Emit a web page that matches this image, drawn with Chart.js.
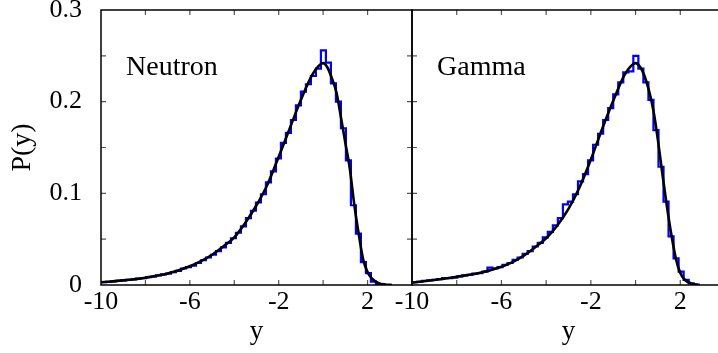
<!DOCTYPE html>
<html>
<head>
<meta charset="utf-8">
<script src="https://cdn.jsdelivr.net/npm/chart.js@4/dist/chart.umd.min.js"></script>
<style>
  html, body { margin: 0; padding: 0; background: #ffffff; overflow: hidden; }
  #wrap { position: relative; width: 718px; height: 353px; overflow: hidden; background: #fff; }
  canvas { position: absolute; top: 0; }
</style>
</head>
<body>
<div id="wrap">
  <canvas id="left" width="420" height="353" style="left:0px"></canvas>
  <canvas id="right" width="350" height="353" style="left:380px"></canvas>
</div>
<script>
// ---- axis setup ----
const xRange = [-10, 4];
const yRange = [0, 0.3];
const xTickLabels = [-10, -6, -2, 2];
const yTickLabels = [0, 0.1, 0.2, 0.3];
const panelLabels = ['Neutron', 'Gamma'];

// ---- histogram bins ----
const binStart = -10;
const binWidth = 0.225;

const neutronHist = [0.003,0.0035,0.004,0.0045,0.005,0.0055,0.006,0.007,0.0075,0.0085,
  0.009,0.0105,0.0115,0.0125,0.014,0.0155,0.018,0.0195,0.021,0.024,
  0.027,0.030,0.033,0.037,0.041,0.046,0.051,0.057,0.064,0.073,
  0.081,0.090,0.099,0.112,0.124,0.138,0.155,0.166,0.180,0.196,
  0.211,0.219,0.228,0.236,0.256,0.2425,0.220,0.200,0.171,0.136,
  0.087,0.056,0.025,0.013,0.0036,0.001];

const gammaHist = [0.003,0.0035,0.0045,0.005,0.0055,0.0065,0.0075,0.0075,0.008,0.0095,
  0.0105,0.011,0.0125,0.013,0.0145,0.019,0.018,0.0195,0.022,0.024,
  0.0275,0.030,0.034,0.037,0.042,0.046,0.052,0.058,0.065,0.073,
  0.088,0.091,0.099,0.113,0.121,0.136,0.153,0.165,0.180,0.193,
  0.208,0.221,0.232,0.233,0.250,0.236,0.221,0.202,0.169,0.129,
  0.091,0.053,0.029,0.0145,0.0055,0.0018,0.0005];

// ---- fitted curves ----
const neutronCurveX = [-10,-9,-8,-7,-6,-5.5,-5,-4.5,-4,-3.5,-3,-2.5,-2,-1.5,-1,-0.5,-0.2,0,0.2,0.4,0.6,0.8,1.0,1.2,1.4,1.6,1.8,2.0,2.2,2.5,2.8,3.1];
const neutronCurveY = [0.003,0.005,0.008,0.0125,0.0205,0.026,0.033,0.042,0.052,0.068,0.087,0.110,0.140,0.171,0.202,0.229,0.239,0.242,0.237,0.225,0.210,0.183,0.155,0.127,0.088,0.056,0.028,0.014,0.007,0.002,0.0005,0];

const gammaCurveX = [-10,-9,-8,-7,-6,-5.5,-5,-4.5,-4,-3.5,-3,-2.5,-2,-1.5,-1,-0.5,-0.2,0,0.2,0.4,0.6,0.8,1.0,1.2,1.4,1.6,1.8,2.0,2.2,2.5,2.8];
const gammaCurveY = [0.0025,0.0055,0.009,0.013,0.020,0.025,0.032,0.041,0.051,0.065,0.083,0.107,0.137,0.170,0.201,0.229,0.239,0.242,0.238,0.228,0.212,0.190,0.158,0.121,0.086,0.055,0.029,0.013,0.0057,0.0015,0];

function histPoints(vals) {
  const pts = vals.map((v, k) => ({ x: binStart + k * binWidth, y: v }));
  pts.push({ x: binStart + vals.length * binWidth, y: 0 });
  return pts;
}
function curvePoints(xs, ys) {
  return xs.map((x, i) => ({ x: x, y: ys[i] }));
}

const SERIF = '"Liberation Serif", "DejaVu Serif", serif';

const framePlugin = {
  id: 'frame',
  afterDatasetsDraw(chart, args, opts) {
    const ctx = chart.ctx;
    const a = chart.chartArea;
    const xs = chart.scales.x, ys = chart.scales.y;
    ctx.save();
    // inward tick marks
    ctx.strokeStyle = '#555';
    ctx.lineWidth = 1.2;
    const L = 5;
    ctx.beginPath();
    xs.ticks.forEach(t => {
      const p = xs.getPixelForValue(t.value);
      if (p <= a.left + 1 || p >= a.right - 1) return;
      ctx.moveTo(p, a.bottom); ctx.lineTo(p, a.bottom - L);
      ctx.moveTo(p, a.top); ctx.lineTo(p, a.top + L);
    });
    ys.ticks.forEach(t => {
      const p = ys.getPixelForValue(t.value);
      if (p <= a.top + 1 || p >= a.bottom - 1) return;
      ctx.moveTo(a.left, p); ctx.lineTo(a.left + L, p);
      ctx.moveTo(a.right, p); ctx.lineTo(a.right - L, p);
    });
    ctx.stroke();
    // frame
    ctx.strokeStyle = '#000';
    ctx.lineWidth = 1.5;
    ctx.strokeRect(a.left, a.top, a.right - a.left, a.bottom - a.top);
    // panel label
    ctx.fillStyle = '#000';
    ctx.font = '28px ' + SERIF;
    ctx.textBaseline = 'alphabetic';
    ctx.textAlign = 'left';
    ctx.fillText(opts.label, a.left + 25, a.top + 65);
    ctx.restore();
  }
};

function makeChart(id, hist, cx, cy, label, isLeft) {
  const ctx = document.getElementById(id);
  return new Chart(ctx, {
    type: 'line',
    data: {
      datasets: [
        {
          data: curvePoints(cx, cy),
          borderColor: '#000000',
          borderWidth: 2.6,
          pointRadius: 0,
          cubicInterpolationMode: 'monotone',
          fill: false
        },
        {
          data: histPoints(hist),
          borderColor: '#0000ff',
          borderWidth: 2.2,
          pointRadius: 0,
          stepped: true,
          fill: false
        }
      ]
    },
    options: {
      responsive: false,
      animation: false,
      events: [],
      layout: { padding: isLeft ? { left: 0, top: 10, right: 8, bottom: 0 } : { left: 0, top: 10, right: 5, bottom: 0 } },
      plugins: {
        legend: { display: false },
        tooltip: { enabled: false },
        frame: { label: label }
      },
      scales: {
        x: {
          type: 'linear',
          min: xRange[0], max: xRange[1],
          grid: { display: false, drawTicks: false },
          border: { display: false },
          ticks: {
            stepSize: 2,
            autoSkip: false,
            maxRotation: 0,
            padding: 2,
            color: '#000',
            font: { family: SERIF, size: 26 },
            callback: v => xTickLabels.includes(Math.round(v)) ? String(Math.round(v)) : ''
          },
          title: {
            display: true,
            text: 'y',
            color: '#000',
            font: { family: SERIF, size: 27 },
            padding: { top: 0, bottom: 5 }
          },
          afterFit: s => { s.height = 68; s.paddingLeft = 0; s.paddingRight = 0; }
        },
        y: {
          type: 'linear',
          min: yRange[0], max: yRange[1],
          grid: { display: false, drawTicks: false },
          border: { display: false },
          ticks: {
            display: isLeft,
            stepSize: 0.05,
            autoSkip: false,
            padding: 19,
            color: '#000',
            font: { family: SERIF, size: 26 },
            callback: v => {
              const r = Math.round(v * 100) / 100;
              const hit = yTickLabels.find(t => Math.abs(t - r) < 1e-6);
              if (hit === undefined) return '';
              return hit === 0 ? '0' : hit.toFixed(1);
            }
          },
          title: {
            display: isLeft,
            text: 'P(y)',
            color: '#000',
            font: { family: SERIF, size: 28 },
            padding: { top: 6, bottom: 0 }
          },
          afterFit: s => { s.width = isLeft ? 101 : 32; s.paddingTop = 0; s.paddingBottom = 0; }
        }
      }
    },
    plugins: [framePlugin]
  });
}

makeChart('left', neutronHist, neutronCurveX, neutronCurveY, panelLabels[0], true);
makeChart('right', gammaHist, gammaCurveX, gammaCurveY, panelLabels[1], false);
</script>
</body>
</html>
